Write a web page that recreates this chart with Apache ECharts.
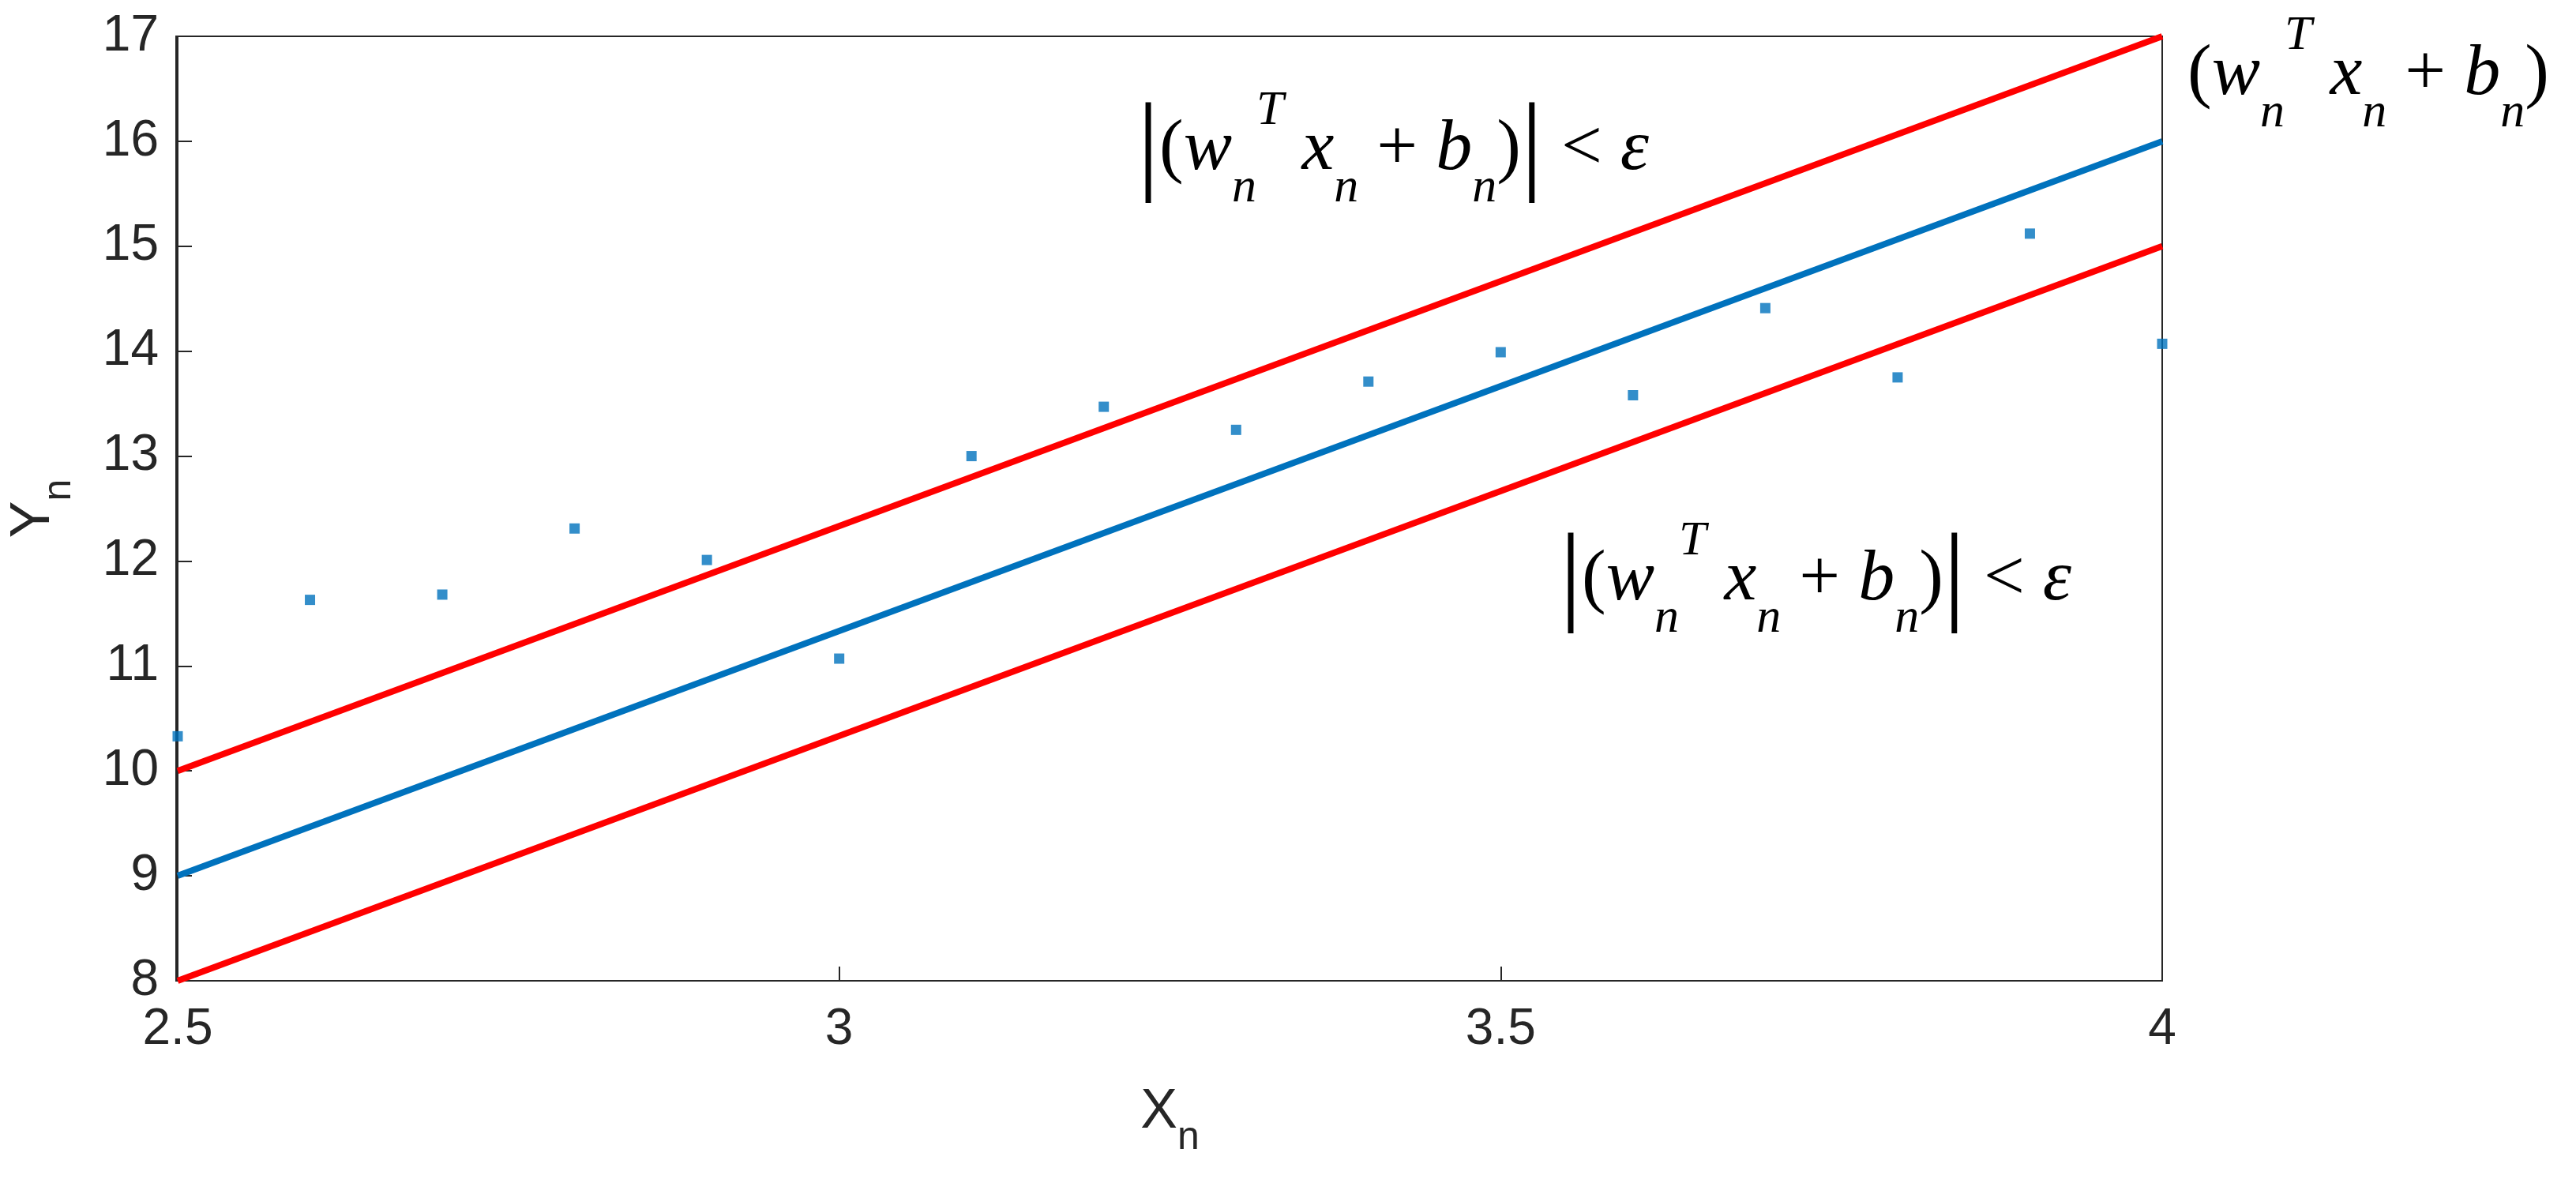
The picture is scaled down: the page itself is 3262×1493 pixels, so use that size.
<!DOCTYPE html>
<html><head><meta charset="utf-8">
<script src="https://cdn.jsdelivr.net/npm/echarts@6/dist/echarts.min.js"></script>
<style>html,body{margin:0;background:#fff}#c{width:3262px;height:1493px}</style>
</head><body><div id="c"></div>
<script>
const xValues=[2.5,2.6,2.7,2.8,2.9,3.0,3.1,3.2,3.3,3.4,3.5,3.6,3.7,3.8,3.9,4.0];
const yValues=[10.33,11.63,11.68,12.31,12.01,11.07,13.0,13.47,13.25,13.71,13.99,13.58,14.41,13.75,15.12,14.07];
const centerLine=[[2.5,9],[4,16]];
const upperLine=[[2.5,10],[4,17]];
const lowerLine=[[2.5,8],[4,15]];
const chart=echarts.init(document.getElementById('c'));
const tickFont={fontFamily:'Arial, Liberation Sans',fontSize:64,color:'#262626'};
const formulaRich={
  b:{fontSize:140,fontFamily:'Liberation Serif',color:'#000',fontStyle:'normal'},
  m:{fontSize:92,fontFamily:'Liberation Serif',fontStyle:'italic',color:'#000'},
  p:{fontSize:92,fontFamily:'Liberation Serif',color:'#000'},
  s:{fontSize:62,fontFamily:'Liberation Serif',fontStyle:'italic',color:'#000',verticalAlign:'bottom',lineHeight:160},
  t:{fontSize:62,fontFamily:'Liberation Serif',fontStyle:'italic',color:'#000',verticalAlign:'top',lineHeight:160}
};
const absF='{b||}{p|(}{m|w}{s|n}{t|T}{m| x}{s|n}{p| + }{m|b}{s|n}{p|)}{b||}{p| < }{m|ε}';
const plainF='{p|(}{m|w}{s|n}{t|T}{m| x}{s|n}{p| + }{m|b}{s|n}{p|)}';
function txt(x,y,f){return {type:'text',left:x,top:y,style:{text:f,rich:formulaRich}};}
chart.setOption({
  animation:false,
  grid:{left:223,right:3262-2738,top:46,bottom:1493-1242},
  xAxis:{type:'value',min:2.5,max:4,interval:0.5,
    name:'{a|X}{s|n}',nameLocation:'middle',nameGap:110,
    nameTextStyle:{rich:{a:{fontSize:70,fontFamily:'Arial, Liberation Sans',color:'#262626'},s:{fontSize:50,fontFamily:'Arial, Liberation Sans',color:'#262626',padding:[64,0,0,0]}}},
    axisLine:{lineStyle:{color:'#262626',width:2}},axisTick:{inside:true,length:18,lineStyle:{color:'#262626',width:2}},
    axisLabel:Object.assign({margin:30},tickFont),splitLine:{show:false}},
  yAxis:{type:'value',min:8,max:17,interval:1,
    name:'{a|Y}{s|n}',nameLocation:'middle',nameGap:125,nameRotate:90,
    nameTextStyle:{rich:{a:{fontSize:70,fontFamily:'Arial, Liberation Sans',color:'#262626'},s:{fontSize:50,fontFamily:'Arial, Liberation Sans',color:'#262626',padding:[64,0,0,0]}}},
    axisLine:{lineStyle:{color:'#262626',width:2}},axisTick:{inside:true,length:18,lineStyle:{color:'#262626',width:2}},
    axisLabel:Object.assign({margin:24},tickFont),splitLine:{show:false}},
  graphic:[
    {type:'rect',shape:{x:223,y:46,width:2738-223,height:1242-46},style:{fill:'none',stroke:'#262626',lineWidth:2},silent:true},
    txt(1440,110,absF),
    txt(2770,15,plainF),
    txt(1975,655,absF)
  ],
  series:[
    {type:'line',data:upperLine,symbol:'none',lineStyle:{color:'#ff0000',width:8},z:3},
    {type:'line',data:centerLine,symbol:'none',lineStyle:{color:'#0072bd',width:8},z:3},
    {type:'line',data:lowerLine,symbol:'none',lineStyle:{color:'#ff0000',width:8},z:3},
    {type:'scatter',data:xValues.map((x,i)=>[x,yValues[i]]),symbol:'rect',symbolSize:13,itemStyle:{color:'#0072bd'},z:4}
  ]
});
</script></body></html>
